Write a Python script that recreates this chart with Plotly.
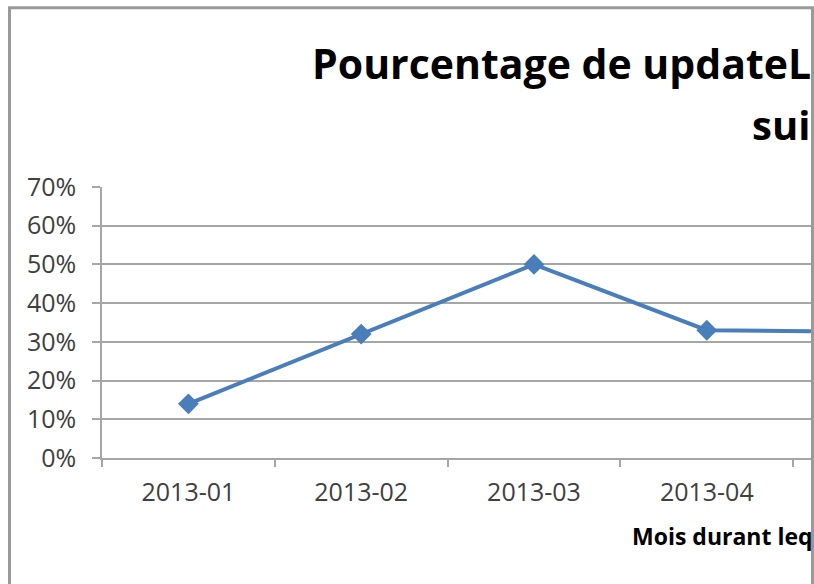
import plotly.graph_objects as go

# ---- data ----
months = ["2013-01", "2013-02", "2013-03", "2013-04", "2013-05"]
share = [0.14, 0.32, 0.50, 0.33, 0.326]
y_ticks = [0, 0.1, 0.2, 0.3, 0.4, 0.5, 0.6, 0.7]
y_tick_labels = ["0%", "10%", "20%", "30%", "40%", "50%", "60%", "70%"]
title_line1 = "Pourcentage de updateL"
title_line2 = "sui"
x_title = "Mois durant leq"

# ---- layout geometry (page pixels) ----
W, H = 814, 584
PLOT_L, PLOT_R, PLOT_T, PLOT_B = 102, 811, 187, 458.5
L, T = PLOT_L, PLOT_T
R = W - PLOT_R
B = H - PLOT_B
PW, PH = W - L - R, H - T - B
CAT_W = 172.8  # pixel width of one category


def px(x):
    return (x - PLOT_L) / PW


def py(y):
    return (PLOT_B - y) / PH


BLUE = "#4a7ebb"
GRID = "#a6a6a6"
TXT = "#404040"

fig = go.Figure()
fig.add_trace(go.Scatter(
    x=months, y=share, mode="lines+markers",
    line=dict(color=BLUE, width=4),
    marker=dict(symbol="diamond", size=16, color=BLUE),
    cliponaxis=True, showlegend=False,
))

fig.update_layout(
    width=W, height=H,
    margin=dict(l=L, r=R, t=T, b=B, autoexpand=False),
    paper_bgcolor="white", plot_bgcolor="white",
    showlegend=False,
    xaxis=dict(
        type="category", categoryorder="array", categoryarray=months,
        range=[-0.5, -0.5 + PW / CAT_W],
        tickson="boundaries", ticks="outside", ticklen=7, tickwidth=1.5,
        tickcolor=GRID, showline=True, linecolor=GRID, linewidth=1.5,
        showgrid=False, zeroline=False, automargin=False,
        tickfont=dict(family="Open Sans", size=25, color=TXT),
        ticklabelstandoff=11,
    ),
    yaxis=dict(
        range=[0, 0.7], tickvals=y_ticks, ticktext=y_tick_labels,
        ticks="outside", ticklen=8, tickwidth=1.5, tickcolor=GRID,
        showline=True, linecolor=GRID, linewidth=1.5,
        showgrid=True, gridcolor=GRID, gridwidth=1.5, zeroline=False,
        automargin=False,
        tickfont=dict(family="Open Sans", size=25, color=TXT),
        ticklabelstandoff=11,
    ),
)

fig.add_annotation(text="<b>" + title_line1 + "</b>", xref="paper", yref="paper",
                   x=px(310), y=py(63), xanchor="left", yanchor="middle",
                   showarrow=False, font=dict(family="Open Sans", size=41, color="black"))
fig.add_annotation(text="<b>" + title_line2 + "</b>", xref="paper", yref="paper",
                   x=px(750), y=py(124), xanchor="left", yanchor="middle",
                   showarrow=False, font=dict(family="Open Sans", size=40, color="black"))
fig.add_annotation(text="<b>" + x_title + "</b>", xref="paper", yref="paper",
                   x=px(630), y=py(537), xanchor="left", yanchor="middle",
                   showarrow=False, font=dict(family="Open Sans", size=23, color="black"))

FRAME = "#9a9a9a"
fig.add_shape(type="line", xref="paper", yref="paper",
              x0=px(9.5), x1=px(9.5), y0=py(7), y1=py(600), line=dict(color=FRAME, width=3))
fig.add_shape(type="line", xref="paper", yref="paper",
              x0=px(8), x1=px(814), y0=py(7.5), y1=py(7.5), line=dict(color=FRAME, width=3))
fig.add_shape(type="line", xref="paper", yref="paper",
              x0=px(812.5), x1=px(812.5), y0=py(7), y1=py(600), line=dict(color=FRAME, width=3))

fig.write_html(
    "out.html",
    config={"displayModeBar": False},
    post_script="document.body.style.margin='0';document.body.style.overflow='hidden';",
)
